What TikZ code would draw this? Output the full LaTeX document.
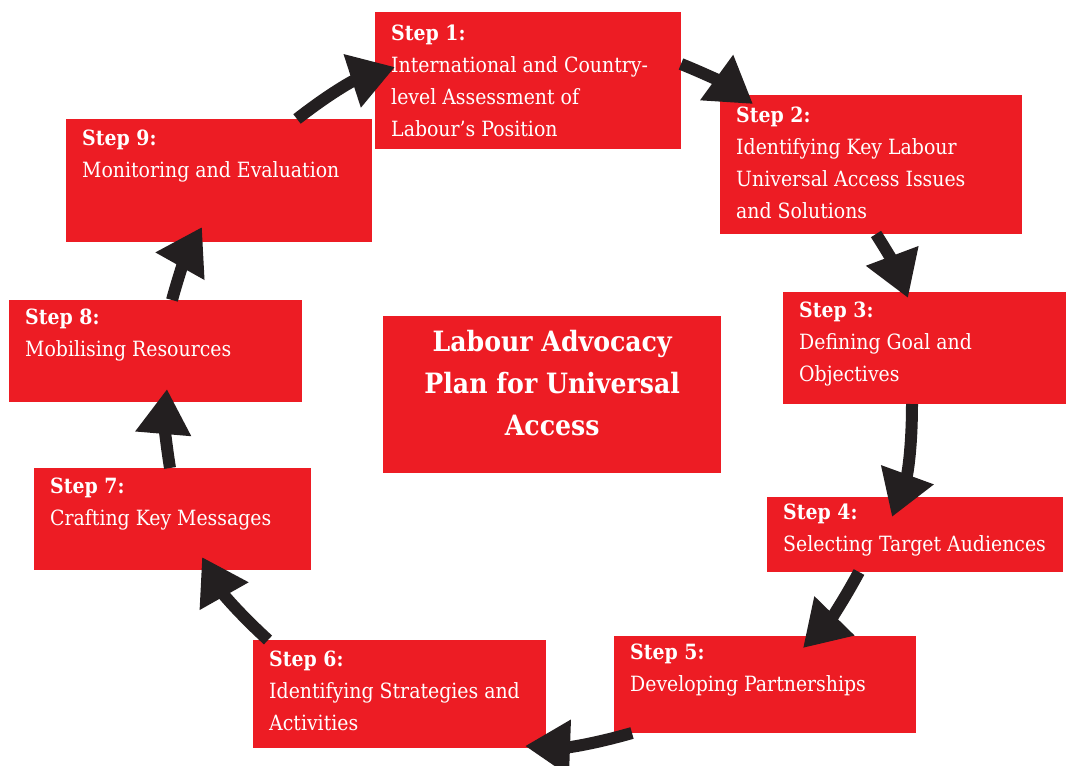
\documentclass[tikz,border=0pt]{standalone}
\usepackage{fontspec}
\newfontfamily\slabfont{DejaVu Serif Condensed}
\usetikzlibrary{arrows.meta}

\definecolor{labred}{HTML}{ED1C24}
\definecolor{arrowdark}{HTML}{231F20}

\tikzset{
  stepbox/.style={fill=labred, anchor=north west, inner sep=0pt},
  steptext/.style={text=white, anchor=base west, align=left, inner sep=0pt,
    font=\slabfont\fontsize{21}{32}\selectfont},
  titletext/.style={text=white, anchor=base, align=center, inner sep=0pt,
    font=\slabfont\bfseries\fontsize{28}{42}\selectfont},
  flow/.style={draw=arrowdark, line width=12pt, -{Triangle[length=45pt,width=53pt]}}
}

\begin{document}
\begin{tikzpicture}[x=1pt,y=1pt]
  \useasboundingbox (0,0) rectangle (1066,-766);
  % the nine steps: number/left/top/width/height/last baseline/text
  \foreach \n/\x/\y/\w/\h/\base/\txt in {
    1/375/12/306/137/124/{International and Country-\\level Assessment of\\Labour’s Position},
    2/720/95/302/139/123/{Identifying Key Labour\\Universal Access Issues\\and Solutions},
    3/783/292/283/112/89/{Defining Goal and\\Objectives},
    4/767/497/296/75/54/{Selecting Target Audiences},
    5/614/636/302/97/55/{Developing Partnerships},
    6/253/640/293/108/90/{Identifying Strategies and\\Activities},
    7/34/468/277/102/57/{Crafting Key Messages},
    8/9/300/293/102/56/{Mobilising Resources},
    9/66/119/306/123/58/{Monitoring and Evaluation}}
    {
      \node[stepbox, minimum width=\w pt, minimum height=\h pt] (s\n) at (\x,-\y) {};
      \node[steptext] (t\n) at ([shift={(16,-\base)}]s\n.north west) {\textbf{Step \n:}\\\txt};
    }
  % centre box
  \node[stepbox, minimum width=338pt, minimum height=157pt] (hub) at (383,-316) {};
  \node[titletext] (hubtext) at ([yshift=-119pt]hub.north) {Labour Advocacy\\Plan for Universal\\Access};
  % arrows round the cycle: from/tail x/tail y/to/tip x/tip y/bend
  \foreach \a/\tx/\ty/\b/\px/\py/\bend in {
    9/231/0/1/20/-55/10, 1/306/-52/2/33/-9/7, 2/156/-139/3/125/-6/6,
    3/129/-112/4/125/-20/10, 4/92/-75/5/189/-12/8, 5/18/-97/6/272/-106/9,
    6/15/0/7/168/-89/9, 7/136/0/8/158/-89/7, 8/163/0/9/136/-108/7}
    \draw[flow] ([shift={(\tx,\ty)}]s\a.north west) to[bend left=\bend] ([shift={(\px,\py)}]s\b.north west);
\end{tikzpicture}
\end{document}
